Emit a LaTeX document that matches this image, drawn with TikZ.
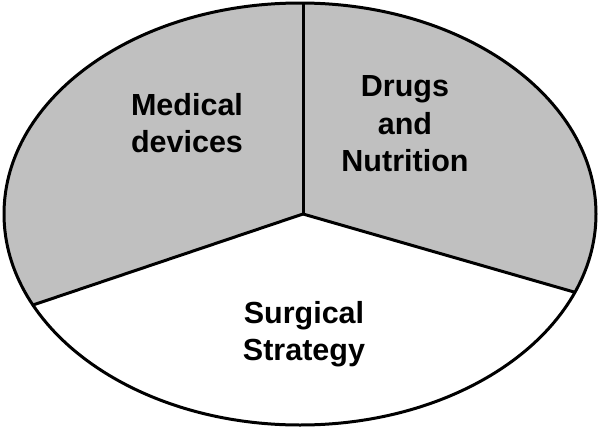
\documentclass[tikz,border=0pt]{standalone}
\usepackage{fontspec}
\setmainfont{Liberation Sans}
\definecolor{sector}{RGB}{192,192,192}
\begin{document}
\begin{tikzpicture}[x=1pt,y=-1pt,
  outline/.style={line width=3pt, line join=round},
  label/.style={font=\bfseries\fontsize{30.5}{37.5}\selectfont, align=center, inner sep=0pt, text=black}]
\useasboundingbox (0,0) rectangle (600,431);
\coordinate (c) at (303,214);
\coordinate (top) at (303,3);
\coordinate (left) at (33,305);
\coordinate (right) at (574,292);
\fill[white] (300,214) ellipse [x radius=296, y radius=211];
\begin{scope}
  \clip (300,214) ellipse [x radius=296, y radius=211];
  \fill[sector] (left) -- (c) -- (right) -- (600,292) -- (600,0) -- (0,0) -- (0,305) -- cycle;
\end{scope}
\draw[outline] (c) -- (top);
\draw[outline] (c) -- (left);
\draw[outline] (c) -- (right);
\draw[outline] (300,214) ellipse [x radius=296, y radius=211];
\node[label] (med) at (187,123.3) {Medical\\devices};
\node[label] (drug) at (405,123.8) {Drugs\\and\\Nutrition};
\node[label] (surg) at (304,334) {Surgical\\Strategy};
\end{tikzpicture}
\end{document}
